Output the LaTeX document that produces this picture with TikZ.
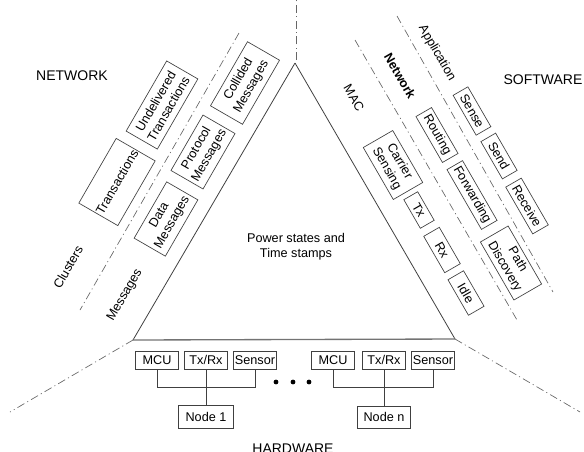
\documentclass[tikz,border=0pt]{standalone}
\usepackage{fontspec}
\setmainfont{Liberation Sans}
\usetikzlibrary{positioning,calc}

\begin{document}
\begin{tikzpicture}[x=0.75pt, y=-0.75pt,
    every node/.style={font=\fontsize{9.5}{11}\selectfont},
    box/.style={draw=black!75, line width=0.5pt, align=center, inner xsep=1pt, inner ysep=0.5pt},
    lbox/.style={box, rotate=60},
    rbox/.style={box, rotate=-60},
    hbox/.style={box, minimum width=32pt, minimum height=13.5pt},
    side/.style={draw=black!75, line width=0.6pt},
    sep/.style={draw=black!60, line width=0.5pt, dash pattern=on 6pt off 2.5pt on 0.8pt off 2.5pt},
    big/.style={font=\fontsize{10.5}{12}\selectfont},
    dot/.style={circle, fill=black, inner sep=0pt, minimum size=3.6pt}]
        \useasboundingbox (0,0) rectangle (584,451);

        % Triangle
        \coordinate (top) at (295,63);
        \coordinate (bl) at (133,340);
        \coordinate (br) at (455,339);
        \draw[side] (top) -- (bl);
        \draw[side] (top) -- (br);
        \draw[side, draw=black!55, line width=1pt] (bl) -- (br);

        % Separators
        \coordinate (topEnd) at (296,0);
        \coordinate (blEnd) at (10,412);
        \coordinate (brEnd) at (580,412);
        \draw[sep] (top) ++(1,-3) -- (topEnd);
        \draw[sep] (bl) -- (blEnd);
        \draw[sep] (br) -- (brEnd);
        \coordinate (netA) at (239,33);
        \coordinate (netB) at (80,310);
        \draw[sep] (netA) -- (netB);
        \coordinate (macA) at (355,40);
        \coordinate (macB) at (517,320);
        \draw[sep] (macA) -- (macB);
        \coordinate (appA) at (397,16);
        \coordinate (appB) at (553,292);
        \draw[sep] (appA) -- (appB);

        % Network side
        \node[lbox, minimum width=55.5pt, minimum height=33.75pt] (trans) at (117,182) {Transactions};
        \node[lbox, minimum width=60.75pt, minimum height=27pt] (undel) at (162,105) {Undelivered\\Transactions};
        \node[lbox, minimum width=55.5pt, minimum height=27.75pt] (coll) at (245,83) {Collided\\Messages};
        \node[lbox, minimum width=48pt, minimum height=27.75pt] (proto) at (203,152) {Protocol\\Messages};
        \node[lbox, minimum width=48.75pt, minimum height=27pt] (data) at (166,219) {Data\\Messages};

        % Software side
        \node[rbox, minimum width=34.5pt, minimum height=12.75pt] (sense) at (472,111) {Sense};
        \node[rbox, minimum width=32.25pt, minimum height=12.75pt] (send) at (499,156) {Send};
        \node[rbox, minimum width=40.5pt, minimum height=13.5pt] (recv) at (527,206) {Receive};
        \node[rbox, minimum width=39.75pt, minimum height=13.5pt] (rout) at (437,135) {Routing};
        \node[rbox, minimum width=51.75pt, minimum height=13.5pt] (fwd) at (472,195) {Forwarding};
        \node[rbox, minimum width=50.25pt, minimum height=24pt] (path) at (511,263) {Path\\Discovery};
        \node[rbox, minimum width=45pt, minimum height=25.5pt] (carr) at (393,165) {Carrier\\Sensing};
        \node[rbox, minimum width=24.75pt, minimum height=12pt] (tx) at (419,210) {Tx};
        \node[rbox, minimum width=31.5pt, minimum height=13.5pt] (rx) at (442,250) {Rx};
        \node[rbox, minimum width=30.75pt, minimum height=13.5pt] (idle) at (466,293) {Idle};

        % Hardware side
        \node[hbox] (mcuA) at (157,360) {MCU};
        \node[hbox] (txrxA) at (206,360) {Tx/Rx};
        \node[hbox] (sensA) at (255,360) {Sensor};
        \node[box, minimum width=41.25pt, minimum height=17.25pt] (nodeA) at (206,417) {Node 1};
        \node[hbox] (mcuB) at (333,360) {MCU};
        \node[hbox] (txrxB) at (384,360) {Tx/Rx};
        \node[hbox] (sensB) at (433,360) {Sensor};
        \node[box, minimum width=39.75pt, minimum height=16.5pt] (nodeB) at (384,417) {Node n};

        % Links
        \coordinate (busA) at (206,387);
        \coordinate (busB) at (384,387);
        \draw[side, line width=0.5pt] (mcuA.south) |- (busA) -| (sensA.south);
        \draw[side, line width=0.5pt] (txrxA) -- (nodeA);
        \draw[side, line width=0.5pt] (mcuB.south) |- (busB) -| (sensB.south);
        \draw[side, line width=0.5pt] (txrxB) -- (nodeB);
        \node[dot] (d1) at (276,382) {};
        \node[dot] (d2) at (293,382) {};
        \node[dot] (d3) at (309,382) {};

        % Labels
        \node[big] (network) at (72,76) {NETWORK};
        \node[big] (software) at (543,80) {SOFTWARE};
        \node[big] (hardware) at (293,449) {HARDWARE};
        \node[rotate=60] (clusters) at (68,267) {Clusters};
        \node[rotate=60] (messages) at (125,295) {Messages};
        \node[rotate=-60] (appl) at (437,53) {Application};
        \node[rotate=-60, font=\fontsize{9.5}{11}\selectfont\bfseries] (netw) at (400,76) {Network};
        \node[rotate=-60] (mac) at (354,98) {MAC};
        \node[align=center, font=\fontsize{9.5}{11.25}\selectfont] (power) at (296,247) {Power states and\\Time stamps};
    \end{tikzpicture}
\end{document}
